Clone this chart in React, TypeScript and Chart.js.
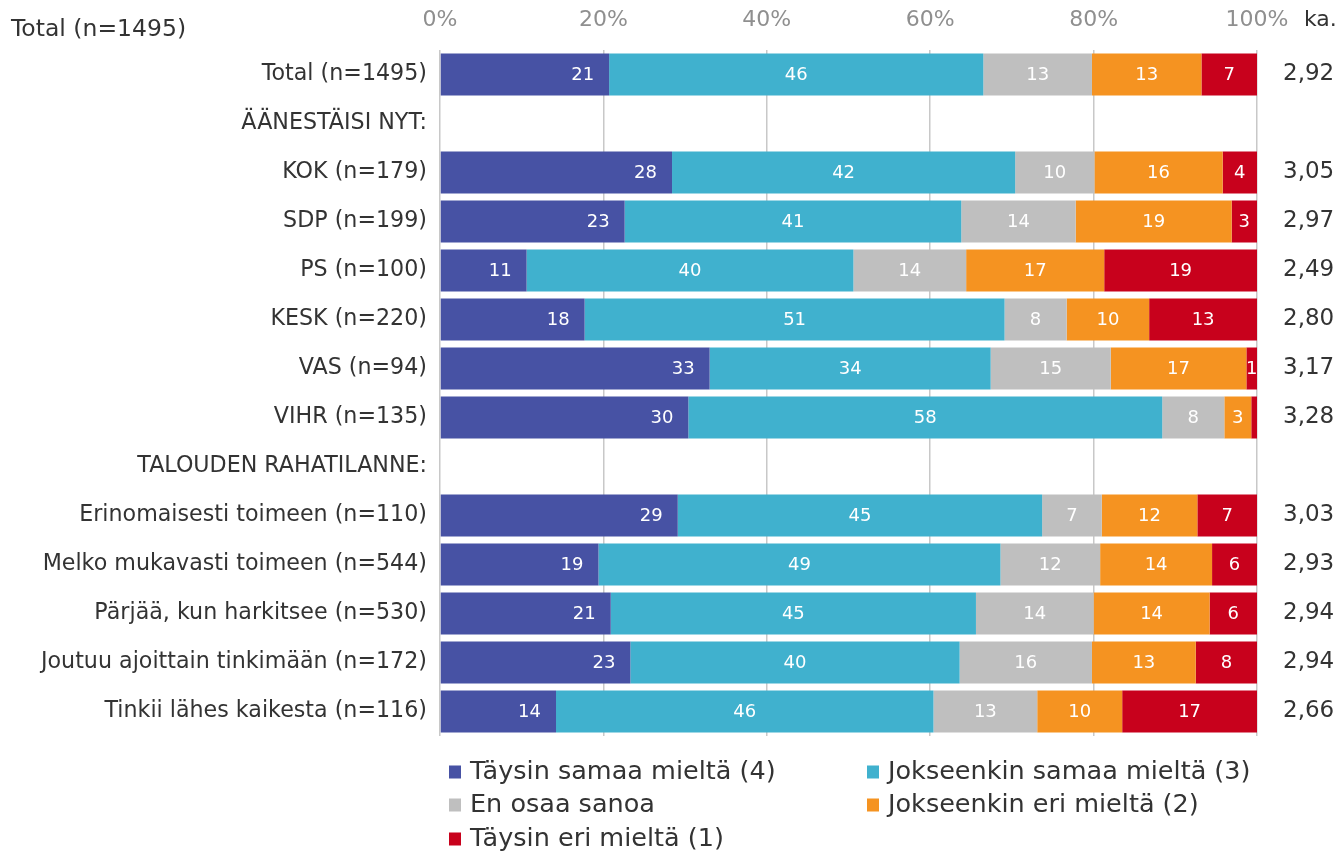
import React, { useEffect, useRef } from 'react';
import { Chart, registerables } from 'chart.js';

Chart.register(...registerables);

const FONT = "'DejaVu Sans', 'Verdana', sans-serif";

const categories = [
  'Total (n=1495)',
  'ÄÄNESTÄISI NYT:',
  'KOK (n=179)',
  'SDP (n=199)',
  'PS (n=100)',
  'KESK (n=220)',
  'VAS (n=94)',
  'VIHR (n=135)',
  'TALOUDEN RAHATILANNE:',
  'Erinomaisesti toimeen (n=110)',
  'Melko mukavasti toimeen (n=544)',
  'Pärjää, kun harkitsee (n=530)',
  'Joutuu ajoittain tinkimään (n=172)',
  'Tinkii lähes kaikesta (n=116)',
];

const seriesNames = [
  'Täysin samaa mieltä (4)',
  'Jokseenkin samaa mieltä (3)',
  'En osaa sanoa',
  'Jokseenkin eri mieltä (2)',
  'Täysin eri mieltä (1)',
];

const seriesColors = ['#4752a4', '#40b1ce', '#bfbfbf', '#f59321', '#c8011c'];

const taysinSamaa = [20.7, null, 28.4, 22.6, 10.6, 17.7, 33.0, 30.4, null, 29.1, 19.4, 20.9, 23.3, 14.2];
const jokseenkinSamaa = [45.8, null, 42.0, 41.2, 40.0, 51.4, 34.4, 58.0, null, 44.6, 49.2, 44.7, 40.3, 46.2];
const enOsaaSanoa = [13.3, null, 9.7, 14.0, 13.8, 7.6, 14.7, 7.6, null, 7.3, 12.2, 14.4, 16.2, 12.7];
const jokseenkinEri = [13.4, null, 15.7, 19.1, 16.9, 10.1, 16.6, 3.3, null, 11.7, 13.7, 14.2, 12.7, 10.4];
const taysinEri = [6.8, null, 4.2, 3.1, 18.7, 13.2, 1.3, 0.7, null, 7.3, 5.5, 5.8, 7.5, 16.5];

const kaValues = ['2,92', '', '3,05', '2,97', '2,49', '2,80', '3,17', '3,28', '', '3,03', '2,93', '2,94', '2,94', '2,66'];

const headerTitle = 'Total (n=1495)';
const kaHeader = 'ka.';

const seriesData = [taysinSamaa, jokseenkinSamaa, enOsaaSanoa, jokseenkinEri, taysinEri];

const barLabelsPlugin = {
  id: 'barLabels',
  afterDatasetsDraw(chart: any) {
    const { ctx, chartArea } = chart;
    ctx.save();
    ctx.beginPath();
    ctx.rect(chartArea.left, chartArea.top, chartArea.right - chartArea.left, chartArea.bottom - chartArea.top);
    ctx.clip();
    ctx.font = `18px ${FONT}`;
    ctx.fillStyle = '#ffffff';
    ctx.textBaseline = 'middle';
    chart.data.datasets.forEach((ds: any, i: number) => {
      const meta = chart.getDatasetMeta(i);
      meta.data.forEach((el: any, j: number) => {
        const v = ds.data[j];
        if (v == null || v < 1) return;
        const p = el.getProps(['x', 'y', 'base'], true);
        const txt = String(Math.round(v));
        if (i === 0) {
          ctx.textAlign = 'right';
          ctx.fillText(txt, p.x - 15, p.y + 1);
        } else {
          ctx.textAlign = 'center';
          ctx.fillText(txt, (p.x + p.base) / 2, p.y + 1);
        }
      });
    });
    ctx.restore();
  },
};

const overlayPlugin = {
  id: 'overlay',
  afterDraw(chart: any) {
    const { ctx, chartArea } = chart;
    ctx.save();
    ctx.fillStyle = '#333333';
    ctx.font = `23.5px ${FONT}`;
    ctx.textAlign = 'left';
    ctx.textBaseline = 'middle';
    ctx.fillText(headerTitle, 11, 30);
    ctx.font = `22px ${FONT}`;
    ctx.fillText(kaHeader, chartArea.right + 47, 20);

    const cols = [chartArea.left + 9, chartArea.left + 427];
    const rows = [chartArea.bottom + 36, chartArea.bottom + 69, chartArea.bottom + 103];
    ctx.font = `25.5px ${FONT}`;
    chart.data.datasets.forEach((ds: any, i: number) => {
      const cx = cols[i % 2];
      const cy = rows[Math.floor(i / 2)];
      ctx.fillStyle = ds.backgroundColor;
      ctx.fillRect(cx, cy - 6.5, 12, 13);
      ctx.fillStyle = '#333333';
      ctx.textAlign = 'left';
      ctx.textBaseline = 'middle';
      ctx.fillText(ds.label, cx + 21, cy);
    });
    ctx.restore();
  },
};

export default function App() {
  const canvasRef = useRef<HTMLCanvasElement | null>(null);

  useEffect(() => {
    if (!canvasRef.current) return;
    Chart.defaults.font.family = FONT;
    const chart = new Chart(canvasRef.current, {
      type: 'bar',
      data: {
        labels: categories,
        datasets: seriesNames.map((name, i) => ({
          label: name,
          data: seriesData[i] as any,
          backgroundColor: seriesColors[i],
          borderWidth: 0,
          barPercentage: 1,
          categoryPercentage: 0.857,
        })),
      },
      options: {
        indexAxis: 'y',
        responsive: false,
        animation: false,
        layout: { padding: { top: 0, left: 0, right: 0, bottom: 116 } },
        plugins: {
          legend: { display: false },
          tooltip: { enabled: false },
          title: { display: false },
        },
        scales: {
          x: {
            type: 'linear',
            position: 'top',
            stacked: true,
            min: 0,
            max: 100,
            border: { display: false },
            grid: { color: '#c8c8c8', lineWidth: 1.5, drawTicks: false },
            ticks: {
              stepSize: 20,
              padding: 17,
              color: '#8f8f8f',
              font: { size: 22, family: FONT },
              callback: (v: any) => `${v}%`,
            },
            afterFit: (scale: any) => {
              scale.height = 50;
            },
          },
          y: {
            type: 'category',
            position: 'left',
            stacked: true,
            border: { display: false },
            grid: { display: false, drawTicks: false },
            ticks: {
              padding: 13,
              color: '#333333',
              font: { size: 22.2, family: FONT },
              autoSkip: false,
            },
            afterFit: (scale: any) => {
              scale.width = 440;
            },
          },
          y2: {
            type: 'category',
            position: 'right',
            labels: kaValues,
            offset: true,
            border: { display: false },
            grid: { display: false, drawTicks: false },
            ticks: {
              padding: 26,
              color: '#333333',
              font: { size: 23, family: FONT },
              autoSkip: false,
            },
            afterFit: (scale: any) => {
              scale.width = 82;
            },
          },
        },
      } as any,
      plugins: [barLabelsPlugin, overlayPlugin],
    });
    return () => chart.destroy();
  }, []);

  return (
    <div style={{ position: 'absolute', left: 0, top: 0, width: 1339, height: 852, background: '#ffffff' }}>
      <canvas ref={canvasRef} width={1339} height={852} style={{ display: 'block' }} />
    </div>
  );
}
